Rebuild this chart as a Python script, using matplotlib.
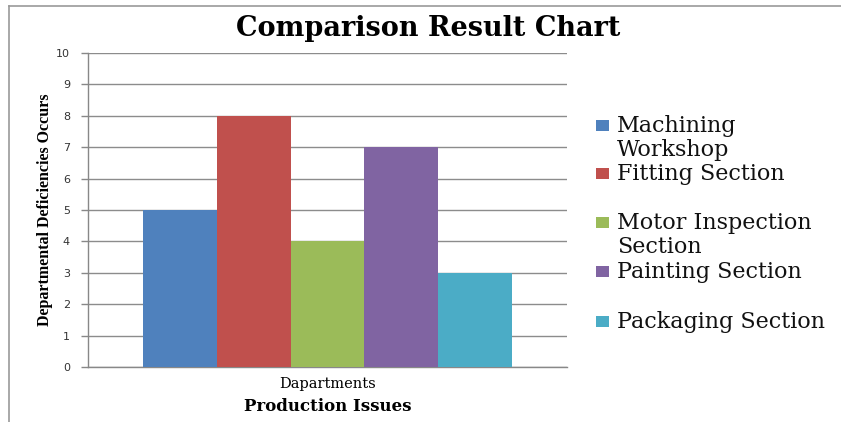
import matplotlib
matplotlib.use("Agg")
import matplotlib.pyplot as plt
from matplotlib.patches import Rectangle
from matplotlib.lines import Line2D
import numpy as np

categories = ["Dapartments"]
series_names = ["Machining\nWorkshop", "Fitting Section", "Motor Inspection\nSection",
                "Painting Section", "Packaging Section"]
series_values = [5, 8, 4, 7, 3]
colors = ["#4F81BD", "#C0504D", "#9BBB59", "#8064A2", "#4BACC6"]
yticks = list(range(0, 11))

fig = plt.figure(figsize=(8.41, 4.22), dpi=100)
ax = fig.add_axes([88/841, 1-367/422, (567-88)/841, (367-53)/422])

n = len(series_values)
bw = 0.154
x0 = np.arange(len(categories))
for i, (v, c) in enumerate(zip(series_values, colors)):
    ax.bar(x0 + (i - (n-1)/2) * bw, [v], width=bw, color=c, zorder=3)

ax.set_xlim(-0.5, 0.5)
ax.set_ylim(0, 10)
ax.set_yticks(yticks)
ax.set_yticklabels([str(t) for t in yticks], fontfamily="DejaVu Sans", fontsize=8, color="#333333")
ax.set_xticks(x0)
ax.set_xticklabels(categories, fontfamily="DejaVu Serif", fontsize=10.5)
ax.tick_params(axis="x", length=0, pad=7)
ax.tick_params(axis="y", length=5, color="#888888", width=1, pad=8)
ax.grid(axis="y", color="#8c8c8c", linewidth=1, zorder=0)
for s in ["top", "right"]:
    ax.spines[s].set_visible(False)
for s in ["left", "bottom"]:
    ax.spines[s].set_color("#888888")
    ax.spines[s].set_linewidth(1)

ax.set_xlabel("Production Issues", fontfamily="DejaVu Serif", fontweight="bold", fontsize=12, labelpad=5)
ax.set_ylabel("Departmental Deficiencies Occurs", fontfamily="Liberation Serif", fontweight="bold",
              fontsize=11.5, labelpad=2)

fig.text(428/841, 1-28/422, "Comparison Result Chart", ha="center", va="center",
         fontfamily="DejaVu Serif", fontweight="bold", fontsize=19.5)

# legend
slot_tops = [125, 173, 222, 271, 321]
for name, c, yt in zip(series_names, colors, slot_tops):
    fig.patches.append(Rectangle((596/841, 1-(yt+6)/422), 13/841, 11/422, transform=fig.transFigure,
                                 facecolor=c, edgecolor="none"))
    fig.text(617/841, 1-(yt-10)/422, name, ha="left", va="top", fontfamily="DejaVu Serif",
             fontsize=16, linespacing=1.1, color="#111111")

# outer frame
fig.lines.append(Line2D([9/841, 1], [1-6/422, 1-6/422], transform=fig.transFigure, color="#999999", lw=1.2))
fig.lines.append(Line2D([9/841, 9/841], [0, 1-6/422], transform=fig.transFigure, color="#999999", lw=1.2))

fig.savefig("out.png", dpi=100)
